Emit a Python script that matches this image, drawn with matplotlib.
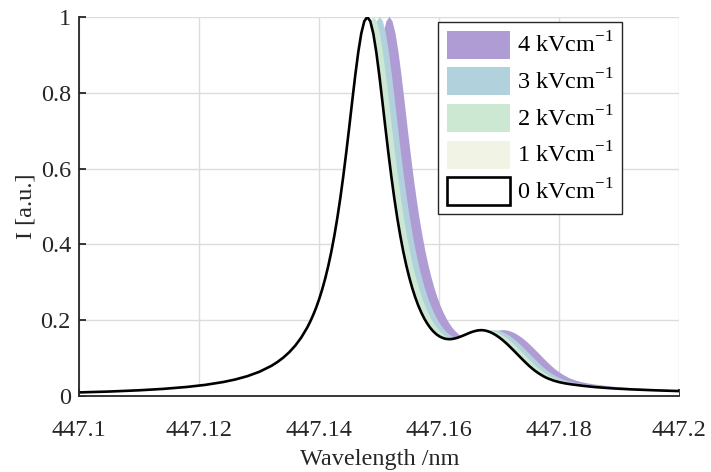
import numpy as np
import matplotlib
matplotlib.use("Agg")
import matplotlib.pyplot as plt
from matplotlib.patches import Patch

plt.rcParams['font.family'] = ['Liberation Serif', 'DejaVu Serif']
plt.rcParams['mathtext.fontset'] = 'custom'
plt.rcParams['mathtext.rm'] = 'Liberation Serif'

# Zero-field spectrum of the He I 447.1 nm line (normalised intensity)
wavelength = [
    447.100, 447.105, 447.110, 447.114, 447.118, 447.121, 447.124, 447.126,
    447.128, 447.130, 447.132, 447.133, 447.134, 447.135, 447.136, 447.137,
    447.138, 447.1385, 447.139, 447.1395, 447.140, 447.1405, 447.141, 447.1415,
    447.142, 447.1425, 447.143, 447.1435, 447.144, 447.1445, 447.145, 447.1455,
    447.146, 447.1465, 447.147, 447.1475, 447.148, 447.1485, 447.149, 447.1495,
    447.150, 447.1505, 447.151, 447.1515, 447.152, 447.1525, 447.153, 447.1535,
    447.154, 447.1545, 447.155, 447.1555, 447.156, 447.1565, 447.157, 447.1575,
    447.158, 447.1585, 447.159, 447.1595, 447.160, 447.1605, 447.161, 447.1615,
    447.162, 447.1625, 447.163, 447.1635, 447.164, 447.1645, 447.165, 447.1655,
    447.166, 447.1665, 447.167, 447.1675, 447.168, 447.1685, 447.169, 447.1695,
    447.170, 447.1705, 447.171, 447.1715, 447.172, 447.1725, 447.173, 447.1735,
    447.174, 447.1745, 447.175, 447.1755, 447.176, 447.1765, 447.177, 447.1775,
    447.178, 447.179, 447.180, 447.181, 447.182, 447.184, 447.186, 447.189,
    447.192, 447.196, 447.200,
]
intensity = [
    0.0095, 0.0118, 0.0151, 0.0188, 0.0240, 0.0294, 0.0369, 0.0436,
    0.0523, 0.0638, 0.0794, 0.0894, 0.1013, 0.1156, 0.1330, 0.1544,
    0.1809, 0.1966, 0.2143, 0.2341, 0.2566, 0.2820, 0.3108, 0.3433,
    0.3802, 0.4221, 0.4691, 0.5217, 0.5799, 0.6433, 0.7105, 0.7795,
    0.8467, 0.9076, 0.9567, 0.9888, 1.0000, 0.9888, 0.9567, 0.9076,
    0.8467, 0.7795, 0.7106, 0.6434, 0.5801, 0.5220, 0.4696, 0.4228,
    0.3811, 0.3446, 0.3126, 0.2845, 0.2600, 0.2386, 0.2203, 0.2044,
    0.1910, 0.1797, 0.1705, 0.1631, 0.1575, 0.1536, 0.1511, 0.1500,
    0.1502, 0.1515, 0.1536, 0.1564, 0.1596, 0.1629, 0.1663, 0.1693,
    0.1716, 0.1732, 0.1738, 0.1732, 0.1713, 0.1684, 0.1646, 0.1599,
    0.1544, 0.1483, 0.1415, 0.1342, 0.1264, 0.1185, 0.1104, 0.1023,
    0.0943, 0.0866, 0.0791, 0.0723, 0.0660, 0.0605, 0.0555, 0.0510,
    0.0470, 0.0410, 0.0365, 0.0333, 0.0308, 0.0268, 0.0235, 0.0200,
    0.0175, 0.0150, 0.0130,
]

# Stark shift of the line for each applied field
fields = [4, 3, 2, 1]
shifts = [0.0037, 0.0021, 0.0011, 0.0002]
colors = ['#AF9CD4', '#B1D2DC', '#CCE8D2', '#F1F4E4']

wl = np.array(wavelength)
inten = np.array(intensity)

fig = plt.figure(figsize=(7.11, 4.72), dpi=100)
ax = fig.add_axes([0.1115, 0.161, 0.8439, 0.803])

handles = []
for f, s, c in zip(fields, shifts, colors):
    ax.fill_between(wl + s, inten, 0, facecolor=c, edgecolor='none', zorder=2)
    handles.append(Patch(facecolor=c, edgecolor='none', label=f'{f} kVcm$^{{-1}}$'))

ax.fill_between(wl, inten, 0, facecolor='white', edgecolor='none', zorder=3)
ax.plot(wl, inten, color='black', lw=1.9, zorder=4, solid_joinstyle='round')
handles.append(Patch(facecolor='white', edgecolor='black', linewidth=1.9,
                     label='0 kVcm$^{-1}$'))

ax.set_xlim(447.1, 447.2)
ax.set_ylim(0, 1)
ax.set_xticks([447.1, 447.12, 447.14, 447.16, 447.18, 447.2])
ax.set_xticklabels(['447.1', '447.12', '447.14', '447.16', '447.18', '447.2'])
ax.set_yticks([0, 0.2, 0.4, 0.6, 0.8, 1])
ax.set_yticklabels(['0', '0.2', '0.4', '0.6', '0.8', '1'])

ax.grid(True, color='#DCDCDC', lw=1.0, zorder=0)
ax.set_axisbelow(True)
for side in ('top', 'right'):
    ax.spines[side].set_visible(False)
for side in ('left', 'bottom'):
    ax.spines[side].set_color('#262626')
    ax.spines[side].set_linewidth(1.3)
    ax.spines[side].set_zorder(5)
ax.tick_params(direction='in', length=5, width=1.3, colors='#262626',
               labelsize=17.5, labelcolor='#262626')
ax.tick_params(axis='x', pad=17)
ax.tick_params(axis='y', pad=6)

ax.set_xlabel('Wavelength /nm', fontsize=17.5, color='#262626', labelpad=6)
ax.set_ylabel('I [a.u.]', fontsize=17.5, color='#262626', labelpad=3)

leg = ax.legend(handles=handles, loc='upper right', bbox_to_anchor=(0.905, 0.986),
                fontsize=17.5, frameon=True, fancybox=False, framealpha=1,
                edgecolor='#262626', handlelength=2.6, handleheight=1.4,
                labelspacing=0.35, handletextpad=0.3, borderpad=0.35,
                borderaxespad=0)
leg.get_frame().set_linewidth(1.0)
leg.set_zorder(6)

fig.savefig('out.png', dpi=100)
